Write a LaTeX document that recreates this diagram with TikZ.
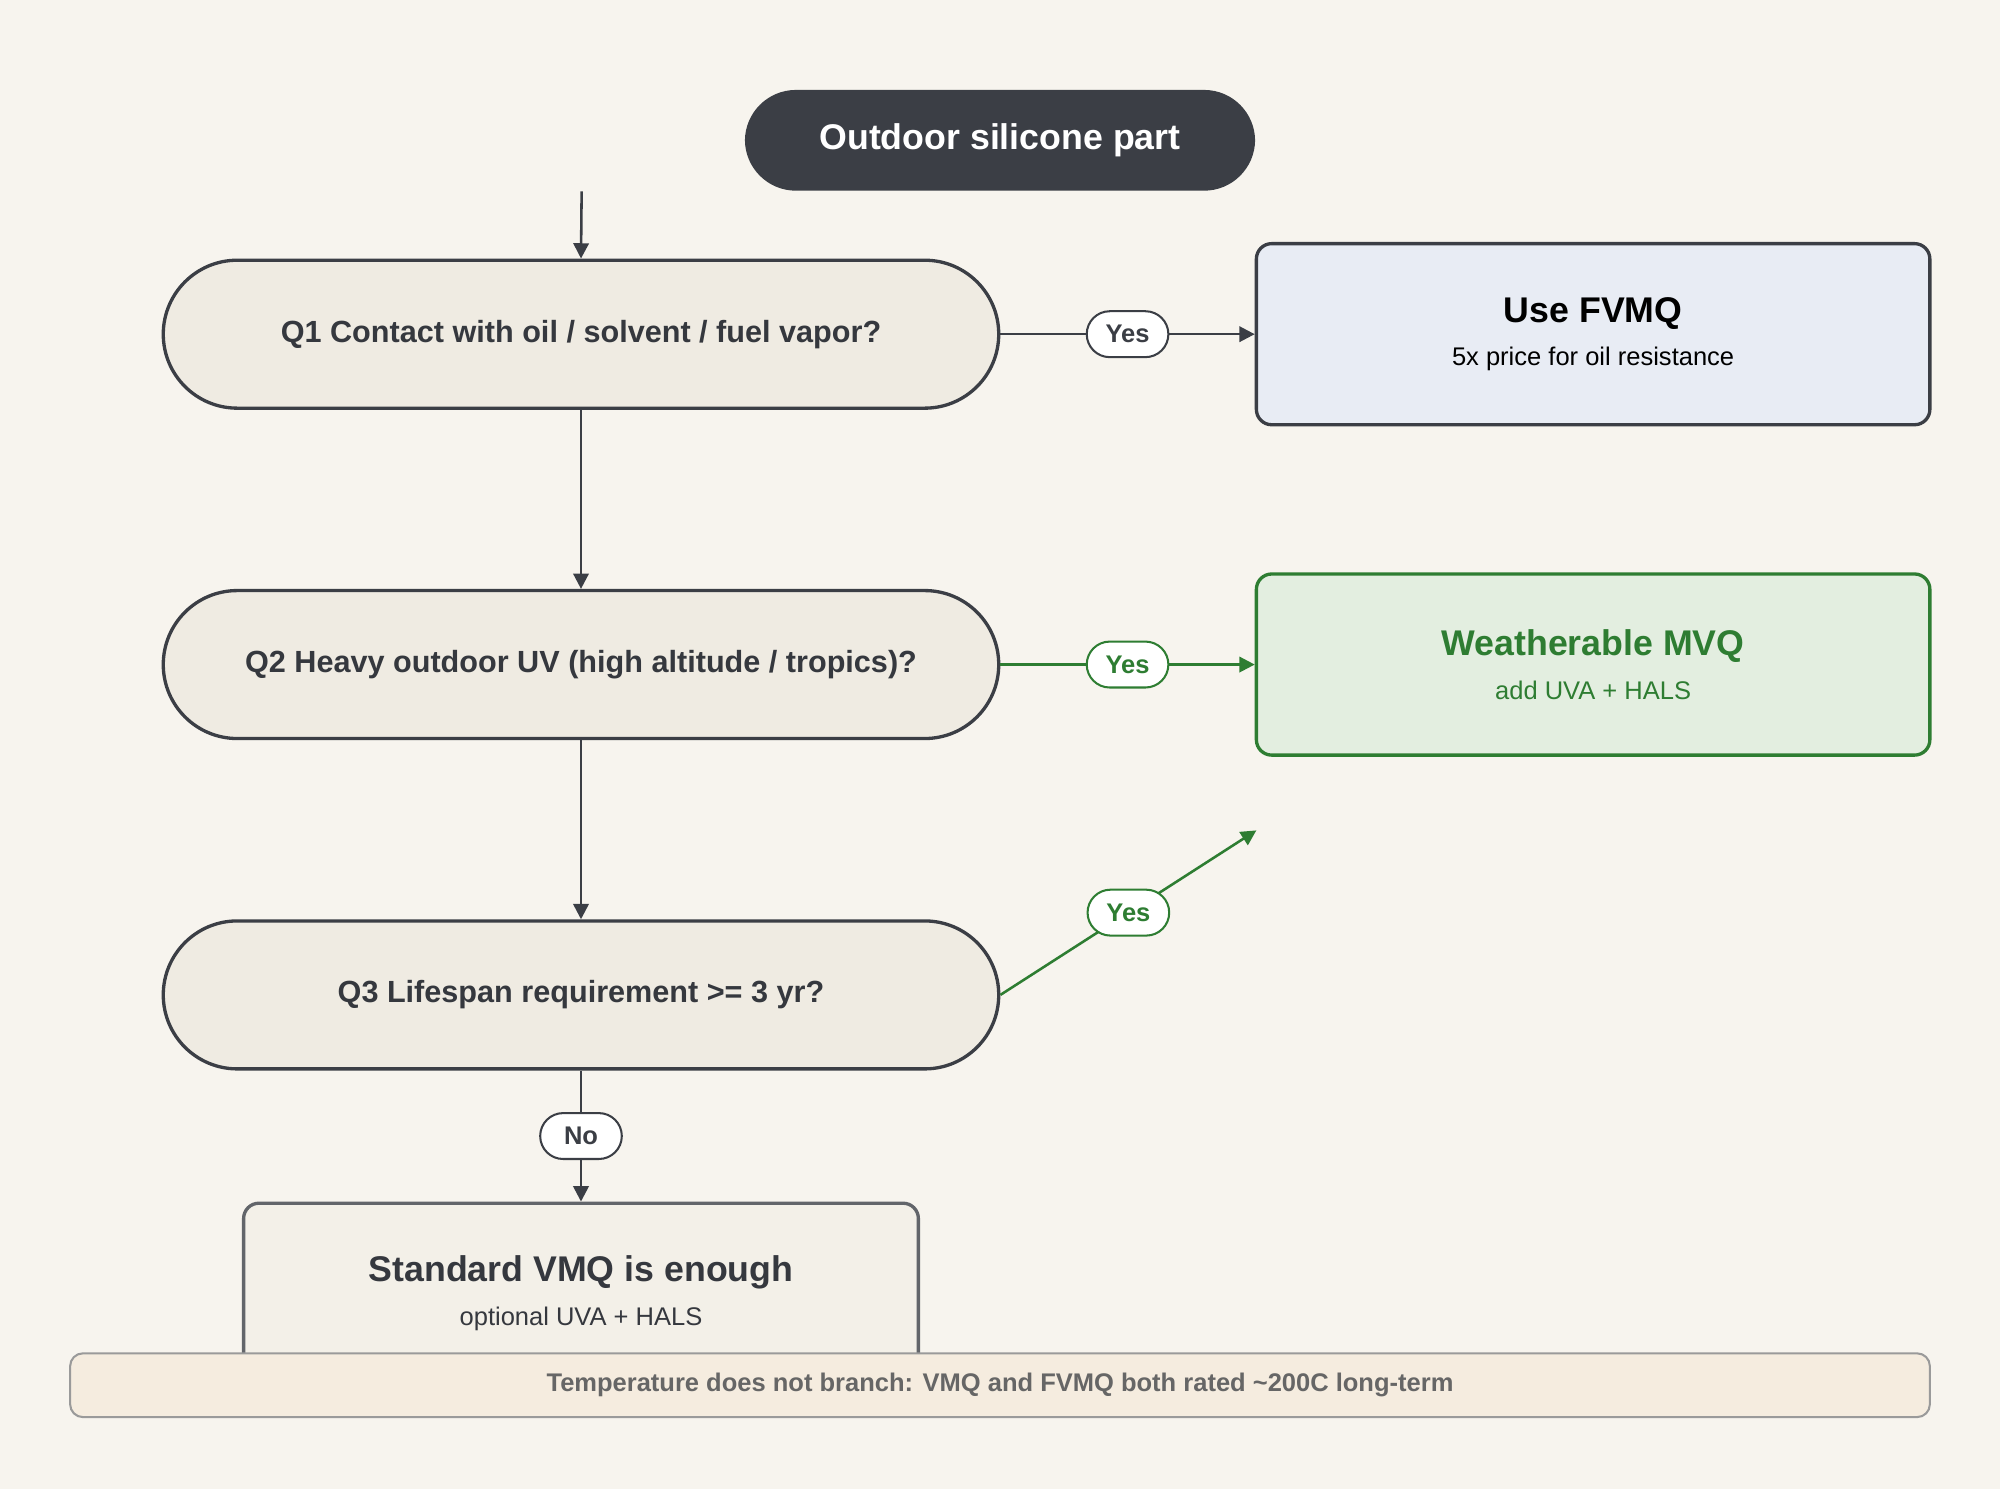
\documentclass[tikz,border=0pt]{standalone}
\usepackage{fontspec}
\setmainfont{Liberation Sans}
\usetikzlibrary{arrows.meta}
\definecolor{bg}{HTML}{F7F4EE}
\definecolor{dark}{HTML}{3B3E45}
\definecolor{qfill}{HTML}{EFEBE2}
\definecolor{bluef}{HTML}{E8ECF4}
\definecolor{greenf}{HTML}{E3EEE0}
\definecolor{green}{HTML}{2E7D32}
\definecolor{stdf}{HTML}{F3F0E8}
\definecolor{footf}{HTML}{F5ECDF}
\definecolor{footd}{HTML}{9A9A9A}
\definecolor{foott}{HTML}{666666}
\tikzset{
 q/.style={draw=dark,line width=1.3pt,fill=qfill,rounded corners=29pt,minimum width=327.5pt,minimum height=58pt,font=\bfseries\fontsize{12}{14}\selectfont,text=dark!90!black},
 res/.style={draw=dark,line width=1.3pt,rounded corners=6pt,minimum width=264pt,minimum height=71pt,align=center},
 lab/.style={draw=dark,line width=0.8pt,fill=white,rounded corners=9pt,minimum width=32pt,minimum height=18pt,inner sep=1pt,font=\bfseries\fontsize{10}{12}\selectfont},
 arr/.style={draw=dark,line width=1pt,-{Triangle[length=6pt,width=6pt]}},
 garr/.style={draw=green,line width=1pt,-{Triangle[length=6pt,width=6pt]}}
}
\begin{document}
\begin{tikzpicture}[x=0.5pt,y=0.5pt]
\fill[bg] (0,0) rectangle (1568,-1167);
\useasboundingbox (0,0) rectangle (1568,-1167);
\node[fill=dark,rounded corners=20pt,minimum width=200pt,minimum height=39.5pt,text=white,font=\bfseries\fontsize{14}{16}\selectfont] (start) at (784,-110) {Outdoor silicone part};
\node[q] (q1) at (455.5,-262) {Q1 Contact with oil / solvent / fuel vapor?};
\node[q] (q2) at (455.5,-521) {Q2 Heavy outdoor UV (high altitude / tropics)?};
\node[q] (q3) at (455.5,-780) {Q3 Lifespan requirement >= 3 yr?};
\node[res,fill=bluef] (fv) at (1249,-262) {{\bfseries\fontsize{14}{16}\selectfont Use FVMQ}\\[5pt]{\fontsize{10}{12}\selectfont 5x price for oil resistance}};
\node[res,fill=greenf,draw=green,text=green] (mv) at (1249,-521) {{\bfseries\fontsize{14}{16}\selectfont Weatherable MVQ}\\[5pt]{\fontsize{10}{12}\selectfont add UVA + HALS}};
\node[draw=dark!80,line width=1.3pt,fill=stdf,rounded corners=6pt,minimum width=264.5pt,minimum height=70pt,anchor=north] (std) at (455.5,-942) {};
\node[align=center,text=dark!90!black] (stdt) at (455.5,-1014) {{\bfseries\fontsize{14}{16}\selectfont Standard VMQ is enough}\\[5pt]{\fontsize{10}{12}\selectfont optional UVA + HALS}};
\node[draw=footd,line width=0.8pt,fill=footf,rounded corners=5pt,minimum width=729pt,minimum height=25pt,text=foott,font=\bfseries\fontsize{10}{12}\selectfont] (foot) at (784,-1086) {Temperature does not branch: VMQ and FVMQ both rated \textasciitilde200C long-term};
\coordinate (s0) at (456,-150);
\coordinate (g3) at (985,-651);
\draw[arr] (s0) -- (q1.north);
\draw[arr] (q1) -- (q2);
\draw[arr] (q2) -- (q3);
\draw[arr] (q3.south) -- (std.north) node[lab,midway,text=dark] {No};
\draw[arr] (q1.east) -- (fv.west) node[lab,pos=0.5,text=dark] {Yes};
\draw[garr] (q2.east) -- (mv.west) node[lab,pos=0.5,draw=green,text=green] {Yes};
\draw[garr] (q3.east) -- (g3) node[lab,pos=0.5,draw=green,text=green] {Yes};
\end{tikzpicture}
\end{document}
